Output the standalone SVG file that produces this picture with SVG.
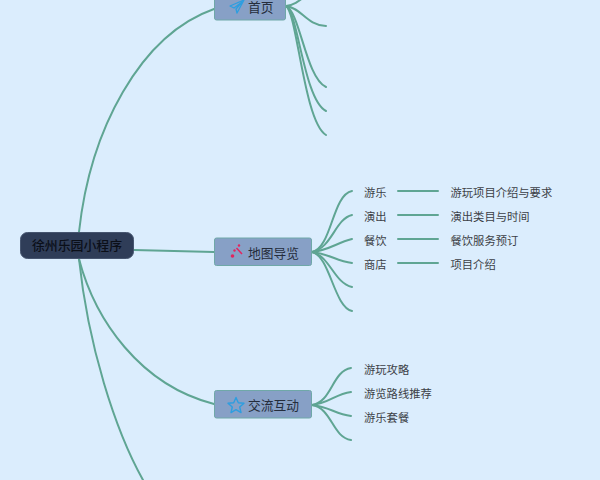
<svg xmlns="http://www.w3.org/2000/svg" width="600" height="480" viewBox="0 0 600 480">
<style>
text{font-family:"Noto Sans CJK SC","Liberation Sans",sans-serif;}
.c{fill:none;stroke:#5fa593;stroke-width:2;stroke-linecap:round}
.b{fill:#87a0c6;stroke:#6fa8a8;stroke-width:1}
.t{font-size:12.750px;fill:#252d3c}
.l{font-size:11.300px;fill:#3b3f46}
</style>
<rect width="600" height="480" fill="#dbedfd"/>
<g id="connectors">
<path class="c" d="M79 232C90 130 140 35 214 9"/>
<path class="c" d="M134 250L214 252"/>
<path class="c" d="M79 259C95 320 140 385 214 404"/>
<path class="c" d="M79 259C88 345 115 430 143 480"/>
<path class="c" d="M286 6C295 5 300 0 308 -6"/>
<path class="c" d="M286 6C302 8 306 25 326 26"/>
<path class="c" d="M286 6C300 12 306 78 326 87"/>
<path class="c" d="M286 6C298 12 304 100 326 111"/>
<path class="c" d="M286 6C297 12 304 122 326 135"/>
<path class="c" d="M312 252C332 248 332 195 352 191"/>
<path class="c" d="M312 252C332 248 335 219 352 215"/>
<path class="c" d="M312 252C330 250 336 243 352 239"/>
<path class="c" d="M312 252C330 254 336 261 352 263"/>
<path class="c" d="M312 252C330 256 334 283 352 287"/>
<path class="c" d="M312 252C330 256 334 307 352 311"/>
<path class="c" d="M398 191H438M398 215H438M398 239H438M398 263H438"/>
<path class="c" d="M312 405C332 402 332 371 351 368"/>
<path class="c" d="M312 405C330 403 335 394 351 392"/>
<path class="c" d="M312 405C330 407 335 414 351 416"/>
<path class="c" d="M312 405C332 408 332 437 351 440"/>
</g>
<g id="root"><rect x="20.500" y="232.500" width="113" height="26" rx="7" fill="#2f3d58" stroke="#46556f"/><text x="77" y="250" text-anchor="middle" font-size="12.900px" font-weight="500" fill="#0b0f18">徐州乐园小程序</text></g>
<g id="node-home"><rect class="b" x="214.500" y="-8" width="71" height="28" rx="2"/><path d="M244 0L230 6L234 8L242 2L236 9L237 13Z" fill="none" stroke="#2d9ee0" stroke-width="1.300" stroke-linejoin="round"/><text class="t" x="248" y="12">首页</text></g>
<g id="node-map"><rect class="b" x="214.500" y="238" width="97" height="27.500" rx="2"/><path d="M236.500 248L242 254" stroke="#e3245f" stroke-width="1.500" fill="none"/><circle cx="232.500" cy="256" r="1.800" fill="#e3245f"/><circle cx="239" cy="245.500" r="1.200" fill="#e3245f"/><circle cx="234.500" cy="250.500" r="1.200" fill="#e3245f"/><text class="t" x="248" y="257.500">地图导览</text></g>
<g id="node-social"><rect class="b" x="214.500" y="390.500" width="97" height="27.500" rx="2"/><path d="M236 397.500L238.300 402.800L244 403.300L239.700 407L241 412.600L236 409.700L231 412.600L232.300 407L228 403.300L233.700 402.800Z" fill="none" stroke="#2d9ee0" stroke-width="1.400" stroke-linejoin="round"/><text class="t" x="248" y="410">交流互动</text></g>
<g id="leaf-1"><text class="l" x="364" y="196.500">游乐</text></g>
<g id="leaf-2"><text class="l" x="364" y="220.500">演出</text></g>
<g id="leaf-3"><text class="l" x="364" y="244.500">餐饮</text></g>
<g id="leaf-4"><text class="l" x="364" y="268.500">商店</text></g>
<g id="leaf-5"><text class="l" x="450.500" y="196.500">游玩项目介绍与要求</text></g>
<g id="leaf-6"><text class="l" x="450.500" y="220.500">演出类目与时间</text></g>
<g id="leaf-7"><text class="l" x="450.500" y="244.500">餐饮服务预订</text></g>
<g id="leaf-8"><text class="l" x="450.500" y="268.500">项目介绍</text></g>
<g id="leaf-9"><text class="l" x="364" y="373.500">游玩攻略</text></g>
<g id="leaf-10"><text class="l" x="364" y="397.500">游览路线推荐</text></g>
<g id="leaf-11"><text class="l" x="364" y="421.500">游乐套餐</text></g>
</svg>
